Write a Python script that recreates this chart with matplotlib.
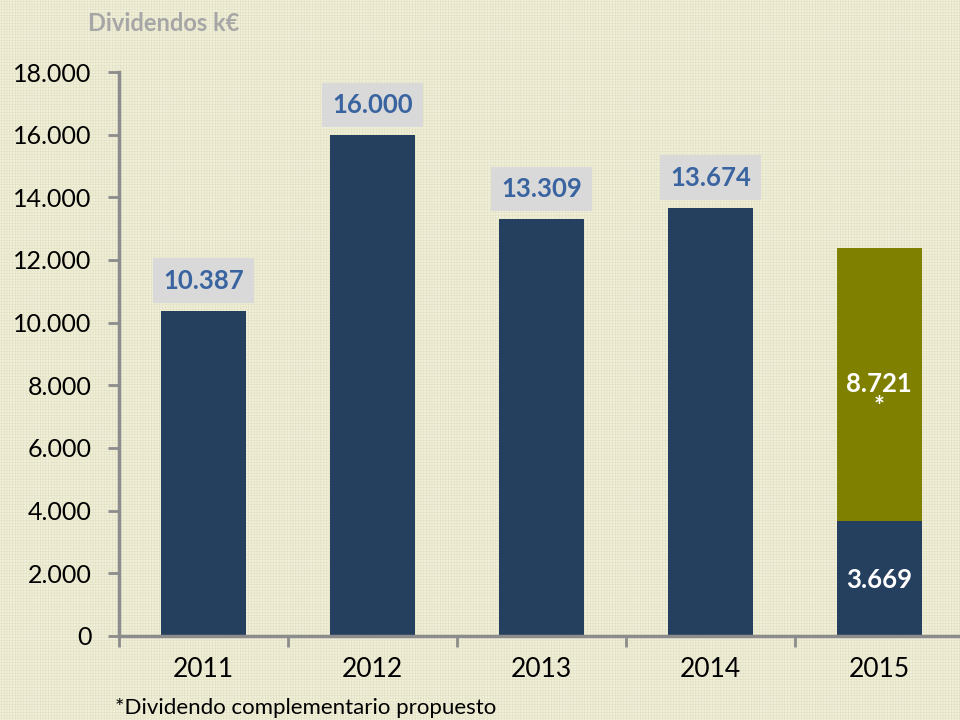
import matplotlib.pyplot as plt
from matplotlib.patches import Rectangle
from matplotlib.ticker import FuncFormatter

# Data
years = ['2011', '2012', '2013', '2014', '2015']
base_values = [10387, 16000, 13309, 13674, 3669]
extra_values = [0, 0, 0, 0, 8721]
top_labels = ['10.387', '16.000', '13.309', '13.674']
yticks = [0, 2000, 4000, 6000, 8000, 10000, 12000, 14000, 16000, 18000]

navy = '#253f5f'
olive = '#7f7f00'
bg = '#f0efdc'
axis_gray = '#8c8c8c'

plt.rcParams['font.family'] = ['Lato', 'DejaVu Sans']
plt.rcParams['hatch.linewidth'] = 0.4

fig = plt.figure(figsize=(9.6, 7.2), dpi=100)
fig.patch.set_facecolor(bg)

# light woven texture like the slide background, in its own axes behind the chart
bg_ax = fig.add_axes([0, 0, 1, 1], zorder=-1)
bg_ax.set_axis_off()
bg_ax.add_patch(Rectangle((0, 0), 1, 1, transform=bg_ax.transAxes, facecolor=bg,
                          edgecolor='#e2e0be', hatch='++++++', linewidth=0))

ax = fig.add_axes([0.124, 0.1167, 0.880, 0.7833], zorder=1)
ax.set_facecolor('none')

x = list(range(len(years)))
ax.bar(x, base_values, width=0.5, color=navy, zorder=2)
ax.bar(x, extra_values, width=0.5, bottom=base_values, color=olive, zorder=2)

ax.set_xlim(-0.5, 4.5)
ax.set_ylim(0, 18000)
ax.set_yticks(yticks)
ax.yaxis.set_major_formatter(FuncFormatter(lambda v, p: f'{int(v):,}'.replace(',', '.')))
ax.tick_params(axis='y', labelsize=18, length=8, width=2, color=axis_gray, pad=12)

# category ticks between bars, labels centered
ax.set_xticks([i - 0.5 for i in range(len(years) + 1)])
ax.set_xticklabels([])
ax.set_xticks(x, minor=True)
ax.set_xticklabels(years, minor=True)
ax.tick_params(axis='x', which='major', length=8, width=2, color=axis_gray)
ax.tick_params(axis='x', which='minor', length=0, labelsize=19, pad=15)

for side in ['top', 'right']:
    ax.spines[side].set_visible(False)
for side in ['left', 'bottom']:
    ax.spines[side].set_color(axis_gray)
    ax.spines[side].set_linewidth(2.5)

# value labels on top
for i, lab in enumerate(top_labels):
    ax.text(i, base_values[i] + 950, lab, ha='center', va='center', fontsize=18.5,
            fontweight='bold', color='#3a64a0',
            bbox=dict(boxstyle='square,pad=0.4', facecolor='#d9d9d9', edgecolor='none'))

# 2015 labels inside bars
ax.text(4, base_values[4] + extra_values[4] * 0.46, '8.721\n*', ha='center', va='center',
        fontsize=18.5, fontweight='bold', color='white', linespacing=0.95,
        multialignment='center', zorder=3)
ax.text(4, base_values[4] * 0.49, '3.669', ha='center', va='center',
        fontsize=18.5, fontweight='bold', color='white', zorder=3)

fig.text(0.170, 0.967, 'Dividendos k€', ha='center', va='center', fontsize=17,
         fontweight='bold', color='#a6a6a6')
fig.text(0.12, 0.016, '*Dividendo complementario propuesto', ha='left', va='center',
         fontsize=16, color='black')

fig.savefig('out.png', dpi=100, facecolor=bg)
